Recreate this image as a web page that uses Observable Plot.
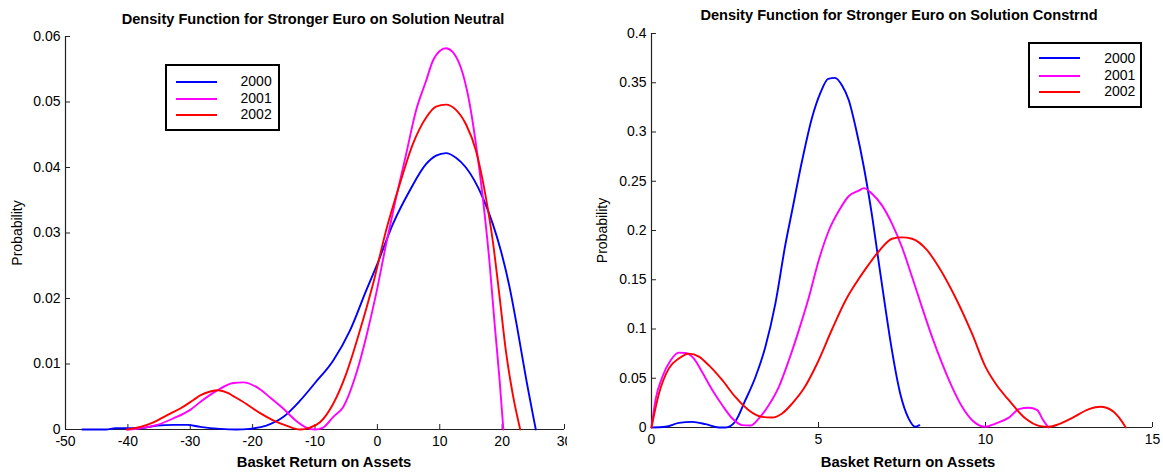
<!DOCTYPE html>
<html>
<head>
<meta charset="utf-8">
<script src="https://cdn.jsdelivr.net/npm/d3@7"></script>
<script src="https://cdn.jsdelivr.net/npm/@observablehq/plot@0.6"></script>
<style>
  html, body { margin: 0; padding: 0; background: white; }
  #root { position: relative; width: 1163px; height: 472px; overflow: hidden; background: white; font-family: "Liberation Sans", Arial, sans-serif; }
  .legend { position: absolute; box-sizing: border-box; border: 2px solid #000; background: #fff; }
  .legend .sw { position: absolute; height: 0; border-top: 2px solid; }
  .legend .lb { position: absolute; font-size: 14px; line-height: 14px; color: #000; text-align: right; }
</style>
</head>
<body>
<div id="root"></div>
<script>
// ---- data ----
const years = ["2000", "2001", "2002"];
const colors = ["#0000ff", "#ff00ff", "#ff0000"];

const neutralTitle = "Density Function for Stronger Euro on Solution Neutral";
const constrndTitle = "Density Function for Stronger Euro on Solution Constrnd";
const xLabel = "Basket Return on Assets";
const yLabel = "Probability";

const neutralXTicks = [-50, -40, -30, -20, -10, 0, 10, 20, 30];
const neutralYTicks = [0, 0.01, 0.02, 0.03, 0.04, 0.05, 0.06];
const constrndXTicks = [0, 5, 10, 15];
const constrndYTicks = [0, 0.05, 0.1, 0.15, 0.2, 0.25, 0.3, 0.35, 0.4];

const neutral2000 = [[-47.3,0],[-43.5,0],[-42,0.0002],[-38,0.0002],[-35.3,0.0006],[-32.7,0.0007],[-30.5,0.0007],[-28.4,0.0004],[-25.2,0.0001],[-22.6,0],[-20.5,0.0001],[-17.8,0.0006],[-15.1,0.0019],[-12.4,0.0044],[-10,0.0071],[-7.1,0.0105],[-4.4,0.0151],[-1.8,0.0212],[0,0.0253],[2.5,0.0314],[5.2,0.0365],[7.8,0.0405],[9.4,0.0418],[11,0.0422],[12.6,0.0415],[14.2,0.040],[16.9,0.0354],[18.5,0.0314],[19.8,0.0273],[21.2,0.0217],[22.5,0.0151],[23.8,0.008],[25.4,0]];
const neutral2001 = [[-40,0],[-38,0.0002],[-35.3,0.0007],[-32.7,0.0017],[-30,0.003],[-28.4,0.0042],[-25.8,0.0059],[-23.1,0.0071],[-21.5,0.0072],[-19.4,0.0065],[-17.2,0.0049],[-15.1,0.0032],[-13,0.0013],[-11.4,0.0003],[-10,0],[-8.7,0.0003],[-7.1,0.0019],[-5.5,0.0034],[-3.4,0.0085],[-1.8,0.0141],[-0.2,0.0207],[1.4,0.0283],[3,0.0354],[4.6,0.042],[6.2,0.0487],[7.8,0.0532],[8.9,0.0563],[10,0.0578],[11,0.0582],[12.1,0.0576],[13.7,0.0543],[14.8,0.0497],[15.8,0.0436],[16.9,0.0354],[18,0.0253],[18.8,0.0161],[19.6,0.0075],[20.2,0]];
const neutral2002 = [[-40.2,0],[-38,0.0004],[-35.9,0.0011],[-33.7,0.0022],[-31.6,0.0032],[-29.5,0.0045],[-28.4,0.0052],[-26.8,0.0058],[-25.5,0.006],[-24,0.0056],[-23.1,0.0051],[-21,0.0039],[-18.8,0.0025],[-16.7,0.0014],[-14.6,0.0006],[-12.4,0],[-10.8,0.0003],[-9.2,0.0011],[-7.1,0.0039],[-5,0.0085],[-2.8,0.0151],[-0.7,0.0222],[1.4,0.0304],[3.6,0.0375],[5.7,0.0436],[7.8,0.0476],[9.4,0.0493],[11,0.0496],[12.6,0.0488],[14.2,0.0466],[15.8,0.0426],[17.4,0.0354],[18.5,0.0288],[19.6,0.0202],[20.6,0.012],[21.7,0.0054],[22.9,0]];

const constrnd2000 = [[0,0],[0.42,0.0007],[0.82,0.0047],[1.22,0.0057],[1.62,0.0034],[2.02,0],[2.22,0],[2.5,0.0057],[2.81,0.0277],[3.11,0.051],[3.41,0.082],[3.71,0.126],[4.01,0.186],[4.21,0.22],[4.51,0.271],[4.81,0.315],[5.06,0.34],[5.29,0.354],[5.49,0.355],[5.71,0.347],[5.91,0.332],[6.11,0.305],[6.36,0.264],[6.61,0.2135],[6.81,0.166],[7.0,0.122],[7.2,0.078],[7.45,0.034],[7.7,0.009],[7.9,0.0007],[8.02,0.0024]];
const constrnd2001 = [[0,0],[0.12,0.028],[0.32,0.051],[0.57,0.068],[0.82,0.076],[1.02,0.0757],[1.27,0.07],[1.52,0.056],[1.82,0.038],[2.12,0.0226],[2.42,0.0091],[2.71,0.0024],[2.96,0.002],[3.21,0.009],[3.51,0.0226],[3.81,0.041],[4.11,0.068],[4.41,0.0986],[4.71,0.132],[5.01,0.17],[5.31,0.2],[5.61,0.22],[5.91,0.235],[6.21,0.2405],[6.36,0.243],[6.61,0.237],[6.91,0.225],[7.2,0.207],[7.5,0.183],[7.8,0.153],[8.1,0.122],[8.4,0.092],[8.7,0.065],[9.0,0.041],[9.3,0.021],[9.6,0.0074],[10.0,0.0007],[10.3,0.004],[10.7,0.010],[11.0,0.0186],[11.3,0.02],[11.55,0.0176],[11.7,0.009],[11.88,0]];
const constrnd2002 = [[0,0],[0.22,0.034],[0.52,0.06],[0.82,0.07],[1.12,0.075],[1.42,0.072],[1.72,0.063],[2.12,0.048],[2.51,0.031],[2.91,0.0176],[3.31,0.0108],[3.61,0.0101],[3.91,0.0142],[4.21,0.0243],[4.56,0.0395],[4.96,0.065],[5.41,0.1],[5.81,0.129],[6.11,0.146],[6.41,0.161],[6.81,0.179],[7.2,0.1916],[7.5,0.193],[7.8,0.1916],[8.25,0.18],[8.6,0.163],[9.1,0.132],[9.6,0.095],[10.0,0.0615],[10.3,0.0446],[10.7,0.0277],[11.2,0.0091],[11.6,0.0017],[11.9,0.0007],[12.2,0.0034],[12.6,0.0098],[13.1,0.0186],[13.44,0.021],[13.8,0.0169],[14.0,0.010],[14.2,0]];

// ---- drawing ----
const FONT = "'Liberation Sans', Arial, Helvetica, sans-serif";

function panel(cfg) {
  const frameW = cfg.width - cfg.ml - cfg.mr;
  const frameH = cfg.height - cfg.mt - cfg.mb;
  const axisColor = "#222";
  const marks = [
    Plot.axisX({ticks: cfg.xTicks, tickSize: 0, tickPadding: 7, tickFormat: d => String(d), label: null, fontSize: 14, fill: "#000"}),
    Plot.axisY({ticks: cfg.yTicks, tickSize: 0, tickPadding: 5, tickFormat: d => String(d), label: null, fontSize: 14, fill: "#000"}),
    Plot.tickX(cfg.xTicks, {x: d => d, insetTop: frameH - 5, stroke: axisColor}),
    Plot.tickY(cfg.yTicks, {y: d => d, insetRight: frameW - 5, stroke: axisColor}),
    Plot.ruleY([cfg.yDomain[0]], {stroke: axisColor, strokeWidth: 1.2}),
    Plot.ruleX([cfg.xDomain[0]], {stroke: axisColor, strokeWidth: 1.2})
  ];
  cfg.series.forEach((s, i) => {
    marks.push(Plot.line(s, {x: d => d[0], y: d => d[1], stroke: colors[i], strokeWidth: 1.9, curve: "monotone-x"}));
  });
  marks.push(
    Plot.text([cfg.title], {text: d => d, frameAnchor: "top", lineAnchor: "middle", dy: cfg.titleDy, dx: cfg.titleDx, fontWeight: "bold", fontSize: 14.6, fill: "#000"}),
    Plot.text([xLabel], {text: d => d, frameAnchor: "bottom", lineAnchor: "middle", dy: cfg.xlDy, dx: cfg.xlDx, fontWeight: "bold", fontSize: 14.8, fill: "#000"}),
    Plot.text([yLabel], {text: d => d, frameAnchor: "left", textAnchor: "middle", lineAnchor: "middle", rotate: -90, dx: cfg.ylDx, fill: "#000", fontSize: 14})
  );
  const svg = Plot.plot({
    width: cfg.width, height: cfg.height,
    marginLeft: cfg.ml, marginRight: cfg.mr, marginTop: cfg.mt, marginBottom: cfg.mb,
    x: {domain: cfg.xDomain},
    y: {domain: cfg.yDomain},
    style: {fontFamily: FONT, fontSize: "14px", color: "#000", background: "white", overflow: "hidden"},
    marks
  });
  svg.style.position = "absolute";
  svg.style.left = cfg.left + "px";
  svg.style.top = "0px";
  svg.style.overflow = "hidden";
  return svg;
}

function legend(box) {
  const el = document.createElement("div");
  el.className = "legend";
  Object.assign(el.style, {left: box.left + "px", top: box.top + "px", width: box.w + "px", height: box.h + "px"});
  years.forEach((yr, i) => {
    const sw = document.createElement("div");
    sw.className = "sw";
    Object.assign(sw.style, {left: box.lineX0 + "px", width: (box.lineX1 - box.lineX0) + "px", top: (box.rows[i] - 1) + "px", borderTopColor: colors[i]});
    el.appendChild(sw);
    const lb = document.createElement("div");
    lb.className = "lb";
    lb.textContent = yr;
    Object.assign(lb.style, {right: box.textR + "px", top: (box.rows[i] - 7.5) + "px"});
    el.appendChild(lb);
  });
  return el;
}

const root = document.getElementById("root");
root.appendChild(panel({
  left: 0, width: 567, height: 472, ml: 65, mr: 3, mt: 36, mb: 43,
  xDomain: [-50, 30], yDomain: [0, 0.06], xTicks: neutralXTicks, yTicks: neutralYTicks,
  series: [neutral2000, neutral2001, neutral2002], title: neutralTitle,
  titleDy: -17, titleDx: -2, xlDy: 33, xlDx: 9, ylDx: -48
}));
root.appendChild(panel({
  left: 580, width: 583, height: 472, ml: 71, mr: 11, mt: 33, mb: 45,
  xDomain: [0, 15], yDomain: [0, 0.4], xTicks: constrndXTicks, yTicks: constrndYTicks,
  series: [constrnd2000, constrnd2001, constrnd2002], title: constrndTitle,
  titleDy: -18, titleDx: -3, xlDy: 34.5, xlDx: 6, ylDx: -49
}));
root.appendChild(legend({left: 164.7, top: 64.3, w: 115, h: 67, lineX0: 9, lineX1: 50, rows: [15.4, 32.4, 48.7], textR: 6}));
root.appendChild(legend({left: 1028.4, top: 41.7, w: 114, h: 66, lineX0: 9, lineX1: 50, rows: [14.6, 32.3, 48.3], textR: 5}));
</script>
</body>
</html>
